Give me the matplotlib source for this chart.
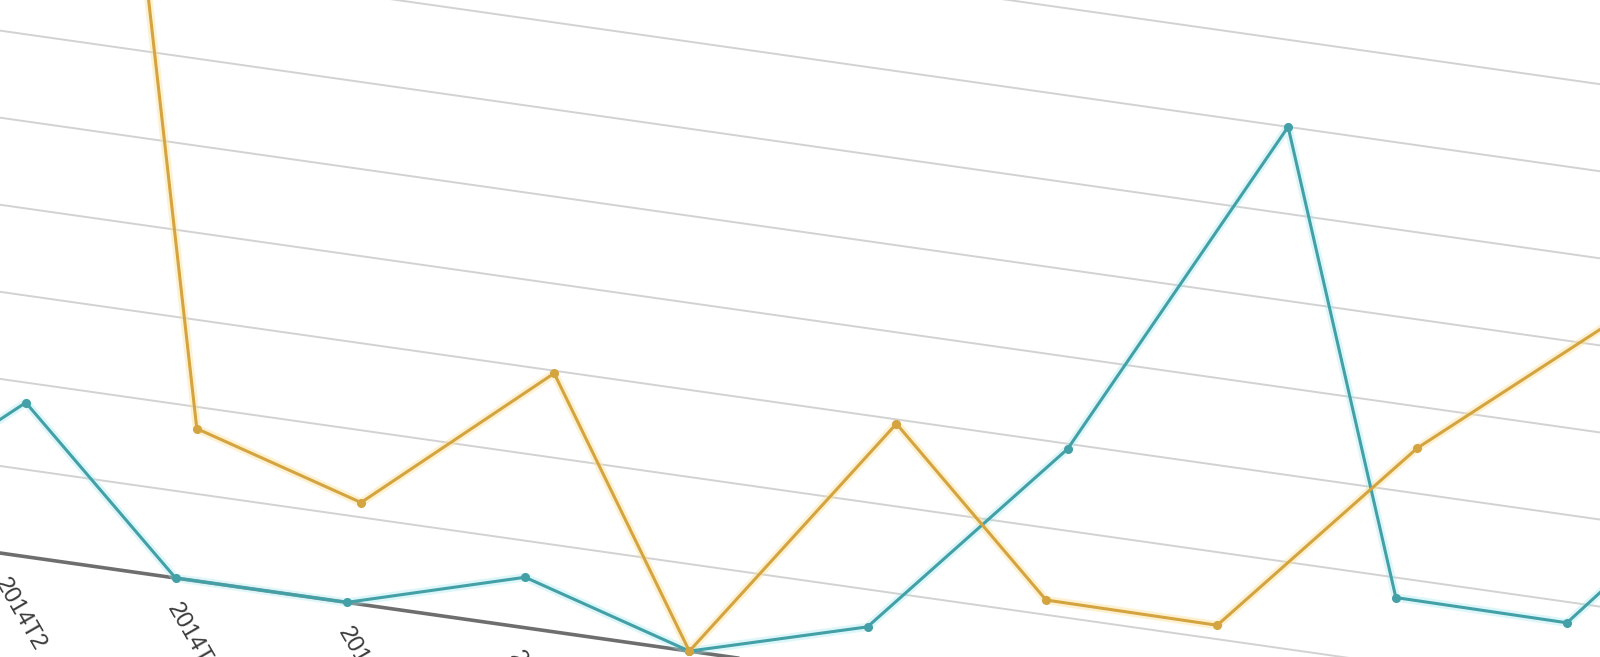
import numpy as np
import matplotlib.pyplot as plt
import matplotlib.transforms as mtransforms

# photo of an Excel line chart, taken a little turned
categories = ["2014T%d" % m for m in range(1, 13)]
teal_values = [0, 1.77, 0, 0, 0.58, 0, 0.57, 2.94, 7.0, 1.77, 1.76, 4.2]
gold_values = [np.nan, 9.5, 1.75, 1.17, 2.97, 0, 2.95, 1.17, 1.16, 3.52, 5.27, np.nan]
grid_levels = list(range(0, 11))

W, H = 1600, 657
tilt = 8.1          # degrees, clockwise
step_px = 172.98    # distance between categories
unit_px = 86.2      # distance between gridlines
cat0_px = -90.7     # where category 0 sits along the axis
base_px = 547.5     # axis line, measured from the top

fig = plt.figure(figsize=(W / 100, H / 100), dpi=100)
ax = fig.add_axes([0, 0, 1, 1])
ax.set_axis_off()
ax.set_autoscale_on(False)
ax.set_xlim(-cat0_px / step_px, (W - cat0_px) / step_px)
ax.set_ylim((base_px - H) / unit_px, base_px / unit_px)

tr = ax.transData + mtransforms.Affine2D().rotate_deg_around(0, H, -tilt)

# gridlines and axis line
for k in grid_levels:
    if k == 0:
        ax.plot([-3, 14], [k, k], color="#6e6e6e", lw=2.6, transform=tr, zorder=2)
    else:
        ax.plot([-3, 14], [k, k], color="#d2d2d2", lw=1.4, transform=tr, zorder=1)

x = np.arange(len(categories))

# soft glow round the lines, like in the photo
ax.plot(x, teal_values, color="#9fe8ee", lw=6, alpha=0.35, transform=tr, zorder=3)
ax.plot(x, gold_values, color="#fbe29a", lw=6, alpha=0.45, transform=tr, zorder=3)

ax.plot(x, teal_values, color="#43a0a6", lw=2.2, marker="o", ms=5.5,
        transform=tr, zorder=4)
ax.plot(x, gold_values, color="#d4a440", lw=2.2, marker="o", ms=5.5,
        transform=tr, zorder=5)

for i, lab in enumerate(categories):
    ax.text(i, -27 / unit_px, lab, transform=tr, rotation=-60,
            rotation_mode="anchor", ha="left", va="center",
            fontsize=17, family="Liberation Sans", color="#3a3a3a")

fig.savefig("out.png", dpi=100, facecolor="white")
